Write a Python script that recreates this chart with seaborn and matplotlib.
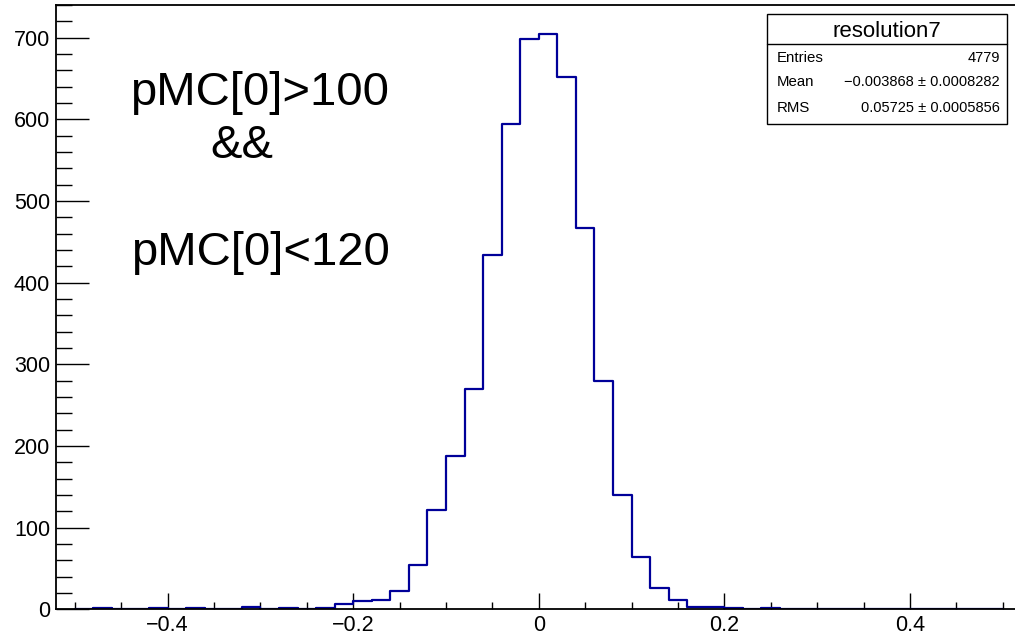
import numpy as np
import pandas as pd
import matplotlib
matplotlib.use("Agg")
import matplotlib.pyplot as plt
import seaborn as sns
from matplotlib.ticker import MultipleLocator, FixedLocator, FixedFormatter
from matplotlib.patches import Rectangle

# ---- data (bin width 0.02, range -0.5 .. 0.5) ----
bin_edges = [round(-0.5 + 0.02 * i, 4) for i in range(51)]
counts = [0, 1, 0, 0, 1, 0, 2, 0, 0, 3,
          0, 2, 0, 1, 6, 10, 12, 22, 54, 121,
          188, 270, 434, 594, 698, 704, 652, 467, 280, 140,
          64, 26, 11, 3, 3, 2, 0, 1, 0, 0,
          0, 0, 0, 0, 0, 0, 0, 0, 0, 0]
bin_centers = [(a + b) / 2 for a, b in zip(bin_edges[:-1], bin_edges[1:])]

xtick_pos = [-0.4, -0.2, 0.0, 0.2, 0.4]
xtick_labels = ["\u22120.4", "\u22120.2", "0", "0.2", "0.4"]
ytick_pos = [0, 100, 200, 300, 400, 500, 600, 700]
ytick_labels = ["0", "100", "200", "300", "400", "500", "600", "700"]

stats_title = "resolution7"
stats_names = ["Entries", "Mean", "RMS"]
stats_values = ["4779", "\u22120.003868 \u00b1 0.0008282", "0.05725 \u00b1 0.0005856"]

cut_lines = ["pMC[0]>100", "&&", "pMC[0]<120"]

df = pd.DataFrame({"x": bin_centers, "w": counts})

sns.set_theme(style="white")
plt.rcParams["font.family"] = ["Liberation Sans", "DejaVu Sans"]

W, H = 1015, 639
fig = plt.figure(figsize=(W / 100, H / 100), dpi=100)
ax = fig.add_axes([56.3 / W, (H - 609.3) / H, 965.0 / W, 604.3 / H])

sns.histplot(data=df, x="x", weights="w", bins=bin_edges, element="step",
             fill=False, color="#000099", linewidth=1.6, ax=ax)

ax.set_xlim(-0.52, 0.52)
ax.set_ylim(0, 740)
ax.set_xlabel("")
ax.set_ylabel("")

ax.xaxis.set_major_locator(FixedLocator(xtick_pos))
ax.xaxis.set_major_formatter(FixedFormatter(xtick_labels))
ax.xaxis.set_minor_locator(MultipleLocator(0.05))
ax.yaxis.set_major_locator(FixedLocator(ytick_pos))
ax.yaxis.set_major_formatter(FixedFormatter(ytick_labels))
ax.yaxis.set_minor_locator(MultipleLocator(20))

ax.tick_params(axis="x", which="major", direction="in", length=11.3, width=1.0,
               color="black", labelsize=15.5, pad=4, bottom=True, top=False)
ax.tick_params(axis="x", which="minor", direction="in", length=5.3, width=1.0,
               color="black", bottom=True, top=False)
ax.tick_params(axis="y", which="major", direction="in", length=23.5, width=1.0,
               color="black", labelsize=15.5, pad=4.5, left=True, right=False)
ax.tick_params(axis="y", which="minor", direction="in", length=11.5, width=1.0,
               color="black", left=True, right=False)
for lab in ax.get_xticklabels() + ax.get_yticklabels():
    lab.set_color("black")

for s in ax.spines.values():
    s.set_color("black")
    s.set_linewidth(1.3)
    s.set_visible(True)
    s.set_zorder(5)

def px(x, y):
    return x / W, 1 - y / H

# cut annotation
fig.text(*px(260, 105), cut_lines[0], ha="center", va="baseline", fontsize=34, color="black")
fig.text(*px(241.5, 158), cut_lines[1], ha="center", va="baseline", fontsize=34, color="black")
fig.text(*px(260, 265), cut_lines[2], ha="center", va="baseline", fontsize=34, color="black")

# stats box
bx0, by0, bx1, by1 = 766.7, 14.0, 1007.3, 124.0
fig.patches.append(Rectangle(px(bx0, by1), (bx1 - bx0) / W, (by1 - by0) / H,
                             transform=fig.transFigure, facecolor="white",
                             edgecolor="black", linewidth=1.0, zorder=10))
fig.add_artist(plt.Line2D([bx0 / W, bx1 / W], [1 - 44.3 / H, 1 - 44.3 / H],
                          transform=fig.transFigure, color="black", linewidth=1.0, zorder=11))
fig.text(*px((bx0 + bx1) / 2, 37), stats_title, ha="center", va="baseline",
         fontsize=16, color="black", zorder=12)
for i, (n, v) in enumerate(zip(stats_names, stats_values)):
    yb = 61.5 + 25 * i
    fig.text(*px(777, yb), n, ha="left", va="baseline", fontsize=10.8, color="black", zorder=12)
    fig.text(*px(1000, yb), v, ha="right", va="baseline", fontsize=10.5, color="black", zorder=12)

fig.savefig("out.png", dpi=100, facecolor="white")
